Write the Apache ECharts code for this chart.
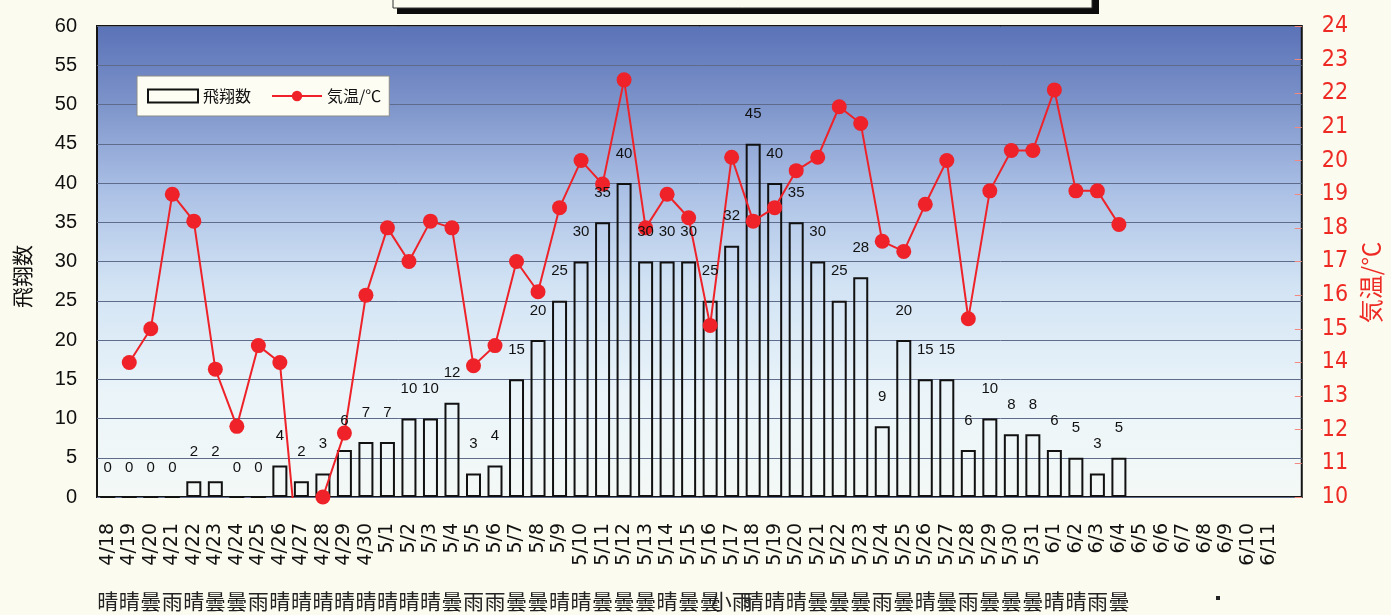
<!DOCTYPE html>
<html>
<head>
<meta charset="utf-8">
<script src="https://cdn.jsdelivr.net/npm/echarts@6/dist/echarts.min.js"></script>
<style>
html,body{margin:0;padding:0;background:#fbfbef;}
#c{width:1391px;height:615px;}
</style>
</head>
<body>
<div id="c"></div>
<script>
// ---- data ----
var dates = ['4/18','4/19','4/20','4/21','4/22','4/23','4/24','4/25','4/26','4/27','4/28','4/29','4/30',
  '5/1','5/2','5/3','5/4','5/5','5/6','5/7','5/8','5/9','5/10','5/11','5/12','5/13','5/14','5/15','5/16','5/17','5/18','5/19','5/20',
  '5/21','5/22','5/23','5/24','5/25','5/26','5/27','5/28','5/29','5/30','5/31',
  '6/1','6/2','6/3','6/4','6/5','6/6','6/7','6/8','6/9','6/10','6/11',''];
var flights = [0,0,0,0,2,2,0,0,4,2,3,6,7,
  7,10,10,12,3,4,15,20,25,30,35,40,30,30,30,25,32,45,40,35,
  30,25,28,9,20,15,15,6,10,8,8,
  6,5,3,5];
var temps = [null,14.0,15.0,19.0,18.2,13.8,12.1,14.5,14.0,7.2,10.0,11.9,16.0,
  18.0,17.0,18.2,18.0,13.9,14.5,17.0,16.1,18.6,20.0,19.3,22.4,18.0,19.0,18.3,15.1,20.1,18.2,18.6,19.7,
  20.1,21.6,21.1,17.6,17.3,18.7,20.0,15.3,19.1,20.3,20.3,
  22.1,19.1,19.1,18.1];
var weather = ['晴','晴','曇','雨','晴','曇','曇','雨','晴','晴','晴','晴','晴',
  '晴','晴','晴','曇','雨','雨','曇','曇','晴','晴','曇','曇','曇','晴','曇','曇','小雨','晴','晴','晴',
  '曇','曇','曇','雨','曇','晴','曇','雨','曇','曇','曇',
  '晴','晴','雨','曇'];
var leftTicks = {min:0, max:60, interval:5};
var rightTicks = {min:10, max:24, interval:1};
var seriesNames = ['飛翔数','気温/℃'];

// pad weather row to category length
var weatherRow = dates.map(function(d,i){ return i < weather.length ? weather[i] : ''; });

var chart = echarts.init(document.getElementById('c'), null, {renderer:'canvas'});
var option = {
  backgroundColor: '#fbfbef',
  animation: false,
  grid: {
    left: 97, right: 88, top: 26, bottom: 118,
    show: true,
    borderColor: '#141414', borderWidth: 2,
    backgroundColor: {
      type: 'linear', x: 0, y: 0, x2: 0, y2: 1,
      colorStops: [
        {offset: 0, color: '#5a72b7'},
        {offset: 0.15, color: '#7990c8'},
        {offset: 0.35, color: '#abc0e5'},
        {offset: 0.55, color: '#d2e3f4'},
        {offset: 0.78, color: '#eaf4f9'},
        {offset: 1, color: '#f4f9f6'}
      ]
    }
  },
  legend: {
    data: [{name: seriesNames[0], icon: 'rect'}, {name: seriesNames[1]}],
    left: 137, top: 76,
    itemWidth: 50, itemHeight: 13, itemGap: 20,
    backgroundColor: '#fdfdf3',
    borderColor: '#8a8a8a', borderWidth: 1,
    padding: [12, 8, 12, 10],
    textStyle: {fontSize: 16, color: '#111', fontFamily: 'Noto Sans CJK JP'}
  },
  xAxis: [{
    type: 'category', data: dates, position: 'bottom',
    axisLine: {show: false}, axisTick: {show: false},
    axisLabel: {interval: 0, rotate: 90, margin: 26, fontSize: 19, color: '#111', fontFamily: 'DejaVu Sans'}
  }, {
    type: 'category', data: weatherRow, position: 'bottom', offset: 92,
    axisLine: {show: false}, axisTick: {show: false},
    axisLabel: {interval: 0, margin: 2, fontSize: 21, color: '#222', fontFamily: 'Noto Sans CJK JP'}
  }],
  yAxis: [{
    type: 'value', position: 'left',
    min: leftTicks.min, max: leftTicks.max, interval: leftTicks.interval,
    axisLine: {show: false}, axisTick: {show: false},
    axisLabel: {fontSize: 20, color: '#111', margin: 20, fontFamily: 'Liberation Sans'},
    splitLine: {show: true, lineStyle: {color: '#5e6b8a', width: 1}},
    name: seriesNames[0], nameLocation: 'middle', nameRotate: 90, nameGap: 64,
    nameTextStyle: {fontSize: 21, color: '#111', fontFamily: 'Noto Sans CJK JP', padding: [0, 30, 0, 0]}
  }, {
    type: 'value', position: 'right',
    min: rightTicks.min, max: rightTicks.max, interval: rightTicks.interval,
    axisLine: {show: false},
    axisTick: {show: true, inside: true, length: 7, lineStyle: {color: '#f08a80'}},
    axisLabel: {fontSize: 23, color: '#ee2a24', margin: 20, fontFamily: "'DejaVu Sans Condensed', 'Liberation Sans', sans-serif", padding: [0,0,8,0]},
    splitLine: {show: false},
    name: seriesNames[1], nameLocation: 'middle', nameRotate: 90, nameGap: 35,
    nameTextStyle: {fontSize: 24, color: '#ee2a24', fontFamily: 'Noto Sans CJK JP', padding: [0, 42, 0, 0]}
  }],
  series: [{
    name: seriesNames[0], type: 'bar', xAxisIndex: 0, yAxisIndex: 0,
    data: flights, barWidth: 15, z: 2,
    itemStyle: {color: 'rgba(255,255,255,0)', borderColor: '#111', borderWidth: 2}
  }, {
    name: seriesNames[1], type: 'line', xAxisIndex: 0, yAxisIndex: 1,
    data: temps, z: 3, clip: true,
    color: '#ee2228',
    lineStyle: {color: '#ee2228', width: 2},
    itemStyle: {color: '#ee2228'},
    symbol: 'circle', symbolSize: 15, showAllSymbol: true
  }, {
    name: 'labels', type: 'bar', xAxisIndex: 0, yAxisIndex: 0,
    data: flights, barWidth: 15, barGap: '-100%', z: 5, silent: true,
    itemStyle: {color: 'rgba(0,0,0,0)', borderWidth: 0},
    label: {show: true, position: 'top', distance: 22, fontSize: 15, color: '#111', fontFamily: 'Liberation Sans'}
  }],
  graphic: [
    {type: 'rect', shape: {x: 397, y: 0, width: 702, height: 14}, style: {fill: '#0c0c0c'}},
    {type: 'rect', shape: {x: 393, y: -6, width: 699, height: 14}, style: {fill: '#fbfbef', stroke: '#333', lineWidth: 1}},
    {type: 'rect', shape: {x: 1216, y: 596, width: 4, height: 4}, style: {fill: '#222'}}
  ]
};
chart.setOption(option);
</script>
</body>
</html>
